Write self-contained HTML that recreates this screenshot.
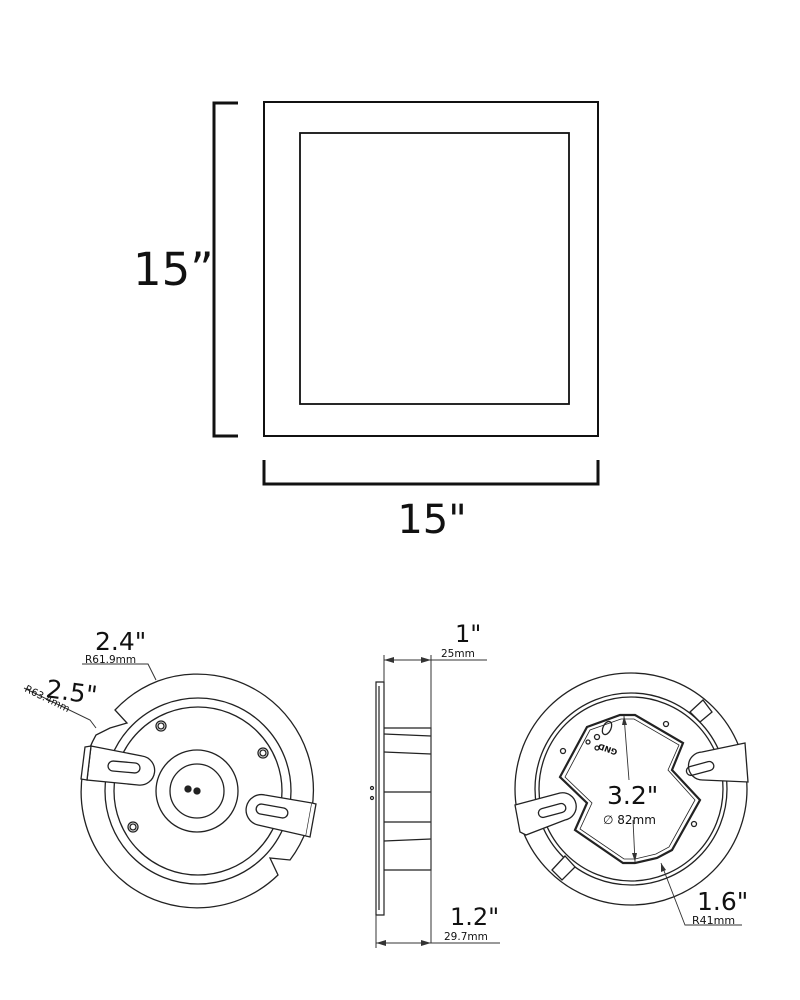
<!DOCTYPE html>
<html><head><meta charset="utf-8"><style>
html,body{margin:0;padding:0;background:#fff;}
svg{display:block;}
text{font-family:"DejaVu Sans","Liberation Sans",sans-serif;fill:#111;}
</style></head><body>
<svg width="800" height="1000" viewBox="0 0 800 1000" xmlns="http://www.w3.org/2000/svg">
<g fill="none" stroke="#111">
<rect x="264" y="102" width="334" height="334" stroke-width="2"/>
<rect x="300" y="133" width="269" height="271" stroke-width="1.8"/>
<path d="M238 103 H214 V436 H238" stroke-width="3"/>
<path d="M264 460 V484 H598 V460" stroke-width="3"/>
</g>
<text x="133" y="285" font-size="45" font-family="Liberation Sans, sans-serif">15”</text>
<text x="432" y="533" font-size="40" text-anchor="middle" font-family="Liberation Sans, sans-serif">15"</text>

<!-- Left circle -->
<g fill="none" stroke="#222" stroke-width="1.3">
<path d="M158 681 A116 116 0 0 1 290 860 L270 858 L278 875 A116 116 0 0 1 96 735 L110 728 L127 723 L115 710 A116 116 0 0 1 158 681"/>
<circle cx="198" cy="791" r="93"/>
<circle cx="198" cy="791" r="84"/>
<circle cx="197" cy="791" r="41"/>
<circle cx="197" cy="791" r="27"/>
<circle cx="188" cy="789" r="3" fill="#222"/><circle cx="197" cy="791" r="3" fill="#222"/>
<circle cx="161" cy="726" r="5"/><circle cx="161" cy="726" r="3"/>
<circle cx="263" cy="753" r="5"/><circle cx="263" cy="753" r="3"/>
<circle cx="133" cy="827" r="5"/><circle cx="133" cy="827" r="3"/>
<path d="M91 746 L142 756 A14 14 0 0 1 138 785 L87 780 Z" fill="#fff"/>
<rect x="108" y="762" width="32" height="10" rx="5" transform="rotate(5 124 767)"/>
<path d="M85 747 L91 746 L87 780 L81 779 Z" fill="#fff"/>
<path d="M265 795 L312 803 L306 836 L258 825 A14 14 0 0 1 265 795 Z" fill="#fff"/>
<rect x="256" y="806" width="32" height="10" rx="5" transform="rotate(10 272 811)"/>
<path d="M312 803 L316 804 L310 837 L306 836" fill="#fff"/>
</g>
<g fill="none" stroke="#333" stroke-width="1">
<path d="M82 664 H148 L156 680"/>
<path d="M24 688 L90 720 L96 728"/>
</g>
<text x="95" y="650" font-size="25">2.4"</text>
<text x="85" y="663" font-size="10.5">R61.9mm</text>
<text x="45" y="697" font-size="25" transform="rotate(8 45 697)">2.5"</text>
<text x="24" y="691" font-size="10" transform="rotate(26 24 691)">R63.4mm</text>

<!-- Side view -->
<g fill="none" stroke="#222" stroke-width="1.2">
<path d="M376 682 H384 V915 H376 Z"/>
<path d="M379 686 V910"/>
<path d="M384 728 H431 V870 H384"/>
<path d="M384 734 L431 736"/>
<path d="M384 752 L431 754"/>
<path d="M384 792 H431"/>
<path d="M384 841 L431 839"/>
<path d="M384 822 H431"/>
<circle cx="372" cy="788" r="1.5"/><circle cx="372" cy="798" r="1.5"/>
</g>
<g stroke="#333" stroke-width="1" fill="none">
<path d="M384 655 V682"/><path d="M431 655 V943"/><path d="M376 915 V948"/>
<path d="M384 660 H487"/><path d="M376 943 H500"/>
</g>
<g fill="#333">
<path d="M384 660 l10 -3 v6 z"/><path d="M431 660 l-10 -3 v6 z"/>
<path d="M376 943 l10 -3 v6 z"/><path d="M431 943 l-10 -3 v6 z"/>
</g>
<text x="455" y="642" font-size="24">1"</text>
<text x="441" y="657" font-size="10.5">25mm</text>
<text x="450" y="925" font-size="24">1.2"</text>
<text x="444" y="940" font-size="10.5">29.7mm</text>

<!-- Right circle -->
<g fill="none" stroke="#222" stroke-width="1.3">
<circle cx="631" cy="789" r="116"/>
<circle cx="631" cy="789" r="96"/>
<circle cx="631" cy="789" r="92"/>
<path d="M515 805 L560 793 A10 10 0 0 1 565 820 L526 835 L520 832 Z" fill="#fff"/>
<rect x="538" y="806" width="28" height="9" rx="4.5" transform="rotate(-15 552 810)"/>
<path d="M745 743 L702 752 A10 10 0 0 0 703 780 L748 782 Z" fill="#fff"/>
<rect x="686" y="764" width="28" height="9" rx="4.5" transform="rotate(-15 700 768)"/>
<path d="M690 712 L703 700 L712 712 L700 722 Z" fill="#fff"/>
<path d="M552 870 L565 856 L575 867 L562 880 Z" fill="#fff"/>
<path d="M620 715 L635 715 L683 743 L672 770 L700 800 L672 850 L657 858 L635 863 L623 863 L575 830 L587 803 L560 777 L587 727 Z" stroke-width="2.2"/>
<path d="M621 719 L634 719 L679 745 L668 770 L695 800 L669 847 L656 854 L635 859 L624 859 L580 829 L592 803 L565 777 L590 730 Z" stroke-width="0.8"/>
<ellipse cx="607" cy="728" rx="4" ry="7" transform="rotate(25 607 728)"/>
<circle cx="597" cy="737" r="2.5"/><circle cx="588" cy="742" r="2"/><circle cx="597" cy="748" r="2"/>
<circle cx="563" cy="751" r="2.5"/><circle cx="666" cy="724" r="2.5"/><circle cx="694" cy="824" r="2.5"/>
</g>
<text x="618" y="750" font-size="8" transform="rotate(200 618 750)" font-weight="bold">GND</text>
<g stroke="#333" stroke-width="0.9" fill="none">
<path d="M624 716 L629 780"/><path d="M633 820 L635 862"/>
<path d="M661 863 L685 925 H742"/>
</g>
<g fill="#333">
<path d="M624 716 l-2 9 h5 z"/><path d="M635 862 l-3 -9 h5 z"/><path d="M661 863 l0 9 l5 -2 z"/>
</g>
<text x="607" y="804" font-size="25">3.2"</text>
<text x="603" y="824" font-size="12">∅ 82mm</text>
<text x="697" y="910" font-size="25">1.6"</text>
<text x="692" y="924" font-size="11">R41mm</text>
</svg>
</body></html>
